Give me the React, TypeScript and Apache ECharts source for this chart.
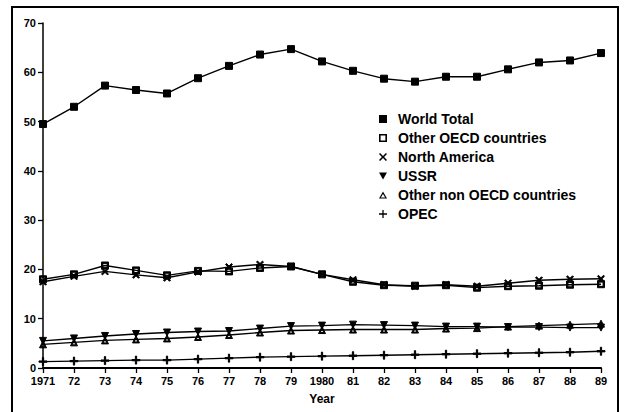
import React, { useEffect, useRef } from "react";
import * as echarts from "echarts";

const years = ["1971", "72", "73", "74", "75", "76", "77", "78", "79", "1980", "81", "82", "83", "84", "85", "86", "87", "88", "89"];
const worldTotal = [49.5, 53.0, 57.3, 56.4, 55.7, 58.8, 61.3, 63.6, 64.7, 62.2, 60.3, 58.7, 58.1, 59.1, 59.1, 60.6, 62.0, 62.4, 63.9];
const otherOECD = [18.0, 19.0, 20.8, 19.8, 18.8, 19.7, 19.6, 20.3, 20.6, 19.0, 17.5, 16.8, 16.7, 16.8, 16.3, 16.6, 16.7, 16.9, 17.0];
const northAmerica = [17.5, 18.6, 19.6, 18.9, 18.3, 19.5, 20.5, 21.0, 20.6, 19.0, 17.9, 16.9, 16.6, 16.9, 16.6, 17.2, 17.8, 18.0, 18.1];
const ussr = [5.5, 6.0, 6.5, 6.9, 7.2, 7.4, 7.5, 8.0, 8.5, 8.6, 8.8, 8.7, 8.6, 8.4, 8.4, 8.3, 8.3, 8.2, 8.2];
const otherNonOECD = [4.8, 5.2, 5.6, 5.8, 6.0, 6.3, 6.7, 7.2, 7.6, 7.7, 7.8, 7.8, 7.8, 8.0, 8.1, 8.4, 8.6, 8.8, 9.0];
const opec = [1.3, 1.4, 1.5, 1.6, 1.6, 1.8, 2.0, 2.2, 2.3, 2.4, 2.5, 2.6, 2.7, 2.8, 2.9, 3.0, 3.1, 3.2, 3.4];

const X_SYM = "path://M1.4,0L5,3.6L8.6,0L10,1.4L6.4,5L10,8.6L8.6,10L5,6.4L1.4,10L0,8.6L3.6,5L0,1.4Z";
const PLUS_SYM = "path://M4.2,0H5.8V4.2H10V5.8H5.8V10H4.2V5.8H0V4.2H4.2Z";
const TRI_DOWN = "path://M0,0L10,0L5,9Z";
const TRI_UP_OPEN = "path://M5,0L10,9L0,9Z M5,3.2L2.3,7.7L7.7,7.7Z";
const RECT_OPEN = "path://M0,0H10V10H0Z M2,2V8H8V2Z";

const FONT = "Liberation Sans";

export default function App() {
  const ref = useRef<HTMLDivElement>(null);
  useEffect(() => {
    if (!ref.current) return;
    const chart = echarts.init(ref.current, null, { renderer: "svg" });
    const lineStyle = { color: "#000", width: 1.4 };
    const mk = (name: string, data: number[], symbol: string, size: number) => ({
      name,
      type: "line",
      data,
      symbol,
      symbolSize: size,
      lineStyle,
      itemStyle: { color: "#000", borderColor: "#000" },
      z: 3,
    });
    chart.setOption({
      animation: false,
      backgroundColor: "#fff",
      graphic: [
        {
          type: "rect",
          shape: { x: 12, y: 7, width: 606, height: 420 },
          style: { fill: "none", stroke: "#000", lineWidth: 2 },
          silent: true,
        },
      ],
      grid: { left: 43, right: 23, top: 23, bottom: 44 },
      legend: {
        orient: "vertical",
        left: 379,
        top: 112,
        padding: 0,
        itemWidth: 8,
        itemHeight: 8,
        itemGap: 5,
        selectedMode: false,
        textStyle: { fontFamily: FONT, fontWeight: "bold", fontSize: 14, color: "#000", lineHeight: 14, padding: [0, 0, 0, 6] },
        data: [
          { name: "World Total", icon: "rect" },
          { name: "Other OECD countries", icon: RECT_OPEN },
          { name: "North America", icon: X_SYM },
          { name: "USSR", icon: TRI_DOWN },
          { name: "Other non OECD countries", icon: TRI_UP_OPEN },
          { name: "OPEC", icon: PLUS_SYM },
        ],
      },
      xAxis: {
        type: "category",
        data: years,
        boundaryGap: false,
        name: "Year",
        nameLocation: "middle",
        nameGap: 25,
        nameTextStyle: { fontFamily: FONT, fontWeight: "bold", fontSize: 12, color: "#000" },
        axisLine: { lineStyle: { color: "#000", width: 2 } },
        axisTick: { show: true, inside: false, length: 5, alignWithLabel: true, lineStyle: { color: "#000", width: 1.3 } },
        axisLabel: { fontFamily: FONT, fontWeight: "bold", fontSize: 11, color: "#000", margin: 7, interval: 0 },
        splitLine: { show: false },
      },
      yAxis: {
        type: "value",
        min: 0,
        max: 70,
        interval: 10,
        axisLine: { show: true, lineStyle: { color: "#000", width: 1.5 } },
        axisTick: { show: true, inside: false, length: 5, lineStyle: { color: "#000", width: 1.3 } },
        axisLabel: { fontFamily: FONT, fontWeight: "bold", fontSize: 11, color: "#000", margin: 7 },
        splitLine: { show: false },
      },
      series: [
        mk("World Total", worldTotal, "rect", 7),
        mk("Other OECD countries", otherOECD, RECT_OPEN, 7),
        mk("North America", northAmerica, X_SYM, 7),
        mk("USSR", ussr, TRI_DOWN, 7),
        mk("Other non OECD countries", otherNonOECD, TRI_UP_OPEN, 7),
        mk("OPEC", opec, PLUS_SYM, 8),
      ],
    });
    return () => chart.dispose();
  }, []);
  return <div ref={ref} style={{ position: "fixed", left: 0, top: 0, width: 624, height: 412 }} />;
}
